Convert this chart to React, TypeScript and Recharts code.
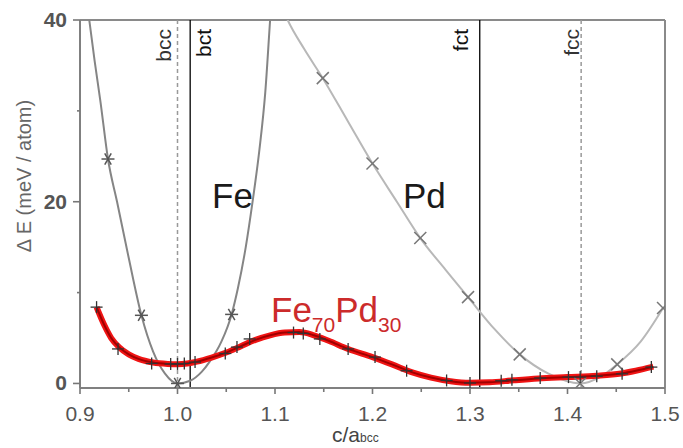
import React from 'react';
import { ComposedChart, Line, XAxis, YAxis, ReferenceLine } from 'recharts';

const FONT = '"Liberation Sans", Arial, Helvetica, sans-serif';

// ---- axis ticks ----
const xTicks = [0.9, 0.95, 1.0, 1.05, 1.1, 1.15, 1.2, 1.25, 1.3, 1.35, 1.4, 1.45, 1.5];
const yTicks = [0, 10, 20, 30, 40];
const yLabelTicks = [0, 20, 40];

// ---- Fe curve ----
const feCurveX = [0.905, 0.9095, 0.915, 0.921, 0.9287, 0.938, 0.95, 0.963, 0.975, 0.987, 1.0, 1.013, 1.025, 1.033, 1.045, 1.0555, 1.062, 1.07, 1.077, 1.084, 1.09, 1.095, 1.099];
const feCurveE = [44, 40, 35.5, 31, 24.7, 20, 13.8, 7.5, 3.5, 1.1, 0, 0.3, 1.3, 2.4, 4.6, 7.6, 10.5, 15, 20, 25.7, 32, 40, 46];
const feMarkX = [0.9287, 0.963, 1.0, 1.0555];
const feMarkE = [24.7, 7.5, 0, 7.6];

// ---- Pd curve ----
const pdCurveX = [1.105, 1.113, 1.13, 1.149, 1.175, 1.2, 1.225, 1.249, 1.275, 1.298, 1.325, 1.351, 1.38, 1.413, 1.435, 1.451, 1.475, 1.498];
const pdCurveE = [42, 40, 36.8, 33.6, 28.8, 24.2, 20, 16.0, 12.5, 9.5, 6, 3.2, 1.1, 0, 0.8, 2.1, 4.6, 8.3];
const pdMarkX = [1.149, 1.2, 1.249, 1.298, 1.351, 1.413, 1.451, 1.498];
const pdMarkE = [33.6, 24.2, 16.0, 9.5, 3.2, 0, 2.1, 8.3];

// ---- Fe70Pd30: fitted curve and data markers ----
const alloyCurveX = [0.917, 0.925, 0.932, 0.94, 0.95, 0.96, 0.975, 0.99, 1.0, 1.01, 1.02, 1.035, 1.05, 1.065, 1.08, 1.095, 1.11, 1.125, 1.14, 1.155, 1.175, 1.2, 1.22, 1.24, 1.26, 1.28, 1.3, 1.32, 1.345, 1.37, 1.4, 1.43, 1.455, 1.47, 1.488];
const alloyCurveE = [8.4, 6.4, 5.0, 4.0, 3.2, 2.7, 2.3, 2.15, 2.12, 2.2, 2.4, 2.85, 3.4, 4.1, 4.8, 5.3, 5.6, 5.65, 5.3, 4.7, 3.8, 2.9, 2.1, 1.25, 0.65, 0.25, 0.08, 0.12, 0.35, 0.55, 0.7, 0.85, 1.1, 1.4, 1.85];
const alloyMarkX = [0.917, 0.939, 0.9735, 0.993, 1.0, 1.007, 1.018, 1.049, 1.061, 1.074, 1.119, 1.129, 1.146, 1.175, 1.2026, 1.235, 1.276, 1.3, 1.332, 1.343, 1.372, 1.401, 1.413, 1.43, 1.456, 1.486];
const alloyMarkE = [8.4, 3.8, 2.2, 2.15, 2.15, 2.2, 2.35, 3.3, 4.0, 4.9, 5.6, 5.5, 4.9, 3.8, 2.9, 1.4, 0.33, 0.05, 0.3, 0.4, 0.6, 0.7, 0.7, 0.8, 1.06, 1.8];

// ---- reference structures ----
const refNames = ['bcc', 'bct', 'fct', 'fcc'];
const refX = [1.0, 1.013, 1.31, 1.414];

const toRows = (xs: number[], es: number[]) => xs.map((x, i) => ({ x, e: es[i] }));
const feCurve = toRows(feCurveX, feCurveE);
const feMarks = toRows(feMarkX, feMarkE);
const pdCurve = toRows(pdCurveX, pdCurveE);
const pdMarks = toRows(pdMarkX, pdMarkE);
const alloyCurve = toRows(alloyCurveX, alloyCurveE);
const alloyMarks = toRows(alloyMarkX, alloyMarkE);

const TICK_SIZE = 6;
const TICK_MARGIN = 10;

const XTick = (props: any) => {
  const { x, y, payload } = props;
  const v = payload.value as number;
  const major = Math.abs(Math.round(v * 10) - v * 10) < 1e-6;
  const axisY = y - TICK_SIZE - TICK_MARGIN;
  return (
    <g>
      <line x1={x} x2={x} y1={axisY} y2={axisY + (major ? 6 : 4)} stroke="#777" strokeWidth={1.6} />
      {major && (
        <text x={x} y={axisY + 33} textAnchor="middle" fontSize={21} fill="#555" fontFamily={FONT}>
          {v.toFixed(1)}
        </text>
      )}
    </g>
  );
};

const YTick = (props: any) => {
  const { x, y, payload } = props;
  const v = payload.value as number;
  const major = yLabelTicks.includes(v);
  const axisX = x + TICK_SIZE + TICK_MARGIN;
  return (
    <g>
      <line x1={axisX - (major ? 7 : 3)} x2={axisX} y1={y} y2={y} stroke="#777" strokeWidth={1.6} />
      {major && (
        <text x={axisX - 13} y={y + 7} textAnchor="end" fontSize={21} fontWeight="bold" fill="#555" fontFamily={FONT}>
          {v}
        </text>
      )}
    </g>
  );
};

const RotLabel = (props: any) => {
  const { viewBox, text, dx, color } = props;
  const X = viewBox.x + dx;
  const Y = viewBox.y + 9;
  return (
    <text
      x={X}
      y={Y}
      transform={`rotate(-90 ${X} ${Y})`}
      textAnchor="end"
      fontSize={21}
      fill={color}
      fontFamily={FONT}
    >
      {text}
    </text>
  );
};

const Star = (p: any) => {
  const { cx, cy } = p;
  if (cx == null || cy == null) return <g />;
  const r = 6.5;
  const a = r * Math.cos(Math.PI / 3);
  const b = r * Math.sin(Math.PI / 3);
  return (
    <g stroke="#555" strokeWidth={1.5}>
      <line x1={cx - r} y1={cy} x2={cx + r} y2={cy} />
      <line x1={cx - a} y1={cy - b} x2={cx + a} y2={cy + b} />
      <line x1={cx - a} y1={cy + b} x2={cx + a} y2={cy - b} />
    </g>
  );
};

const Cross = (p: any) => {
  const { cx, cy } = p;
  if (cx == null || cy == null) return <g />;
  const r = 6;
  return (
    <g stroke="#777" strokeWidth={1.5}>
      <line x1={cx - r} y1={cy - r} x2={cx + r} y2={cy + r} />
      <line x1={cx - r} y1={cy + r} x2={cx + r} y2={cy - r} />
    </g>
  );
};

const Plus = (p: any) => {
  const { cx, cy } = p;
  if (cx == null || cy == null) return <g />;
  const r = 6;
  return (
    <g stroke="#333" strokeWidth={1.3}>
      <line x1={cx - r} y1={cy} x2={cx + r} y2={cy} />
      <line x1={cx} y1={cy - r} x2={cx} y2={cy + r} />
    </g>
  );
};

const refStyle = [
  { stroke: '#999', dash: '4 3', dx: -6.5, color: '#333', width: 1.5 },
  { stroke: '#000', dash: undefined, dx: 21, color: '#111', width: 1.3 },
  { stroke: '#000', dash: undefined, dx: -11.5, color: '#111', width: 1.3 },
  { stroke: '#999', dash: '4 3', dx: -1.7, color: '#333', width: 1.5 },
];

export default function App() {
  return (
    <div style={{ position: 'absolute', left: 0, top: 0, width: 683, height: 448, background: '#fff' }}>
      <ComposedChart width={683} height={448} margin={{ top: 20, right: 18, bottom: 0, left: 0 }}>
        <XAxis
          dataKey="x"
          type="number"
          domain={[0.9, 1.5]}
          ticks={xTicks}
          allowDataOverflow
          height={60}
          tickSize={TICK_SIZE}
          tickMargin={TICK_MARGIN}
          tickLine={false}
          axisLine={{ stroke: '#808080', strokeWidth: 2 }}
          tick={<XTick />}
          interval={0}
        />
        <YAxis
          type="number"
          domain={[-0.5, 40]}
          ticks={yTicks}
          allowDataOverflow
          width={80}
          tickSize={TICK_SIZE}
          tickMargin={TICK_MARGIN}
          tickLine={false}
          axisLine={{ stroke: '#808080', strokeWidth: 2 }}
          tick={<YTick />}
          interval={0}
        />
        <ReferenceLine y={40} stroke="#8a8a8a" strokeWidth={2} />
        <ReferenceLine x={1.5} stroke="#8a8a8a" strokeWidth={2} />
        {refX.map((rx, i) => (
          <ReferenceLine
            key={refNames[i]}
            x={rx}
            stroke={refStyle[i].stroke}
            strokeWidth={refStyle[i].width}
            strokeDasharray={refStyle[i].dash}
            label={<RotLabel text={refNames[i]} dx={refStyle[i].dx} color={refStyle[i].color} />}
          />
        ))}
        <Line data={pdCurve} dataKey="e" type="monotone" stroke="#b8b8b8" strokeWidth={2} dot={false} activeDot={false} isAnimationActive={false} />
        <Line data={feCurve} dataKey="e" type="monotone" stroke="#858585" strokeWidth={2} dot={false} activeDot={false} isAnimationActive={false} />
        <Line data={pdMarks} dataKey="e" stroke="none" dot={(p: any) => <Cross key={'pd' + p.index} {...p} />} activeDot={false} isAnimationActive={false} />
        <Line data={feMarks} dataKey="e" stroke="none" dot={(p: any) => <Star key={'fe' + p.index} {...p} />} activeDot={false} isAnimationActive={false} />
        <Line data={alloyCurve} dataKey="e" type="monotone" stroke="#f01414" strokeWidth={6} dot={false} activeDot={false} isAnimationActive={false} />
        <Line data={alloyCurve} dataKey="e" type="monotone" stroke="#a00000" strokeWidth={2} dot={false} activeDot={false} isAnimationActive={false} />
        <Line data={alloyMarks} dataKey="e" stroke="none" dot={(p: any) => <Plus key={'al' + p.index} {...p} />} activeDot={false} isAnimationActive={false} />
      </ComposedChart>
      <svg width={683} height={448} style={{ position: 'absolute', left: 0, top: 0, pointerEvents: 'none' }}>
        <text transform="translate(24,176) rotate(-90)" textAnchor="middle" dominantBaseline="central" fontSize={20} fill="#666" fontFamily={FONT}>
          Δ E (meV / atom)
        </text>
        <text x={332} y={442} fontSize={21} fill="#444" fontFamily={FONT}>
          c/a<tspan fontSize={12}>bcc</tspan>
        </text>
        <text x={212} y={208} fontSize={35} fill="#1a1a1a" fontFamily={FONT}>Fe</text>
        <text x={403} y={208} fontSize={35} fill="#1a1a1a" fontFamily={FONT}>Pd</text>
        <text x={271} y={322} fontSize={35} fill="#cc2b2b" fontFamily={FONT}>
          Fe<tspan fontSize={21} dy={10}>70</tspan><tspan dy={-10}>Pd</tspan><tspan fontSize={21} dy={10}>30</tspan>
        </text>
      </svg>
    </div>
  );
}
